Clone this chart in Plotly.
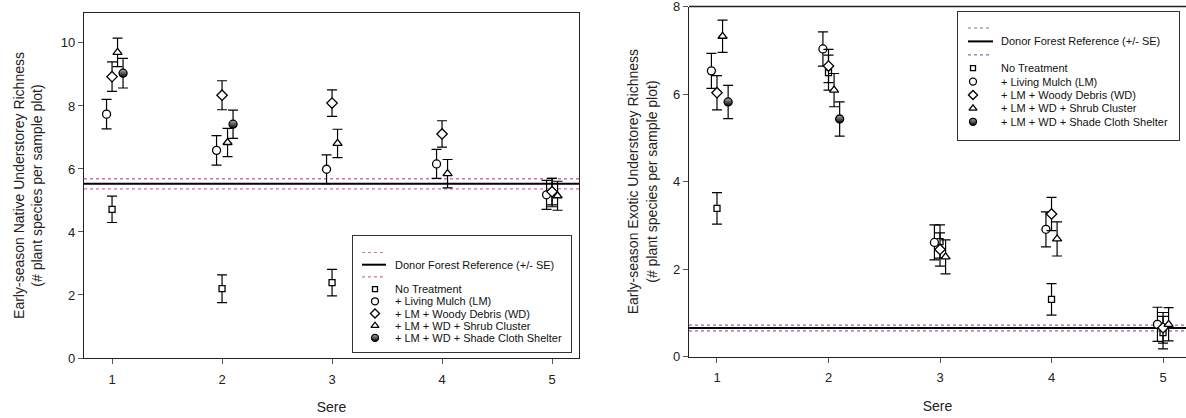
import plotly.graph_objects as go

W, H = 1186, 418
FONT = "Liberation Sans, Arial, sans-serif"

# ---------------- data ----------------
seres = [1, 2, 3, 4, 5]
sere_labels = ["1", "2", "3", "4", "5"]
treatments = [
    "No Treatment",
    "+ Living Mulch (LM)",
    "+ LM + Woody Debris (WD)",
    "+ LM + WD + Shrub Cluster",
    "+ LM + WD + Shade Cloth Shelter",
]
ref_label = "Donor Forest Reference (+/- SE)"

native_no_treatment = [4.72, 2.20, 2.39, None, 5.25]
native_no_treatment_se = [0.42, 0.44, 0.42, None, 0.45]
native_living_mulch = [7.74, 6.59, 5.99, 6.16, 5.18]
native_living_mulch_se = [0.47, 0.47, 0.46, 0.46, 0.46]
native_woody_debris = [8.93, 8.34, 8.09, 7.11, 5.28]
native_woody_debris_se = [0.47, 0.46, 0.42, 0.42, 0.42]
native_shrub_cluster = [9.70, 6.84, 6.81, 5.85, 5.15]
native_shrub_cluster_se = [0.45, 0.45, 0.45, 0.45, 0.46]
native_shade_cloth = [9.04, 7.42, None, None, None]
native_shade_cloth_se = [0.47, 0.45, None, None, None]

exotic_no_treatment = [3.39, 6.49, 2.63, 1.31, 0.55]
exotic_no_treatment_se = [0.36, 0.40, 0.38, 0.36, 0.37]
exotic_living_mulch = [6.53, 7.03, 2.61, 2.91, 0.74]
exotic_living_mulch_se = [0.40, 0.39, 0.40, 0.40, 0.39]
exotic_woody_debris = [6.03, 6.64, 2.45, 3.26, 0.66]
exotic_woody_debris_se = [0.39, 0.38, 0.38, 0.38, 0.35]
exotic_shrub_cluster = [7.32, 6.09, 2.28, 2.69, 0.74]
exotic_shrub_cluster_se = [0.37, 0.38, 0.39, 0.39, 0.38]
exotic_shade_cloth = [5.82, 5.43, None, None, None]
exotic_shade_cloth_se = [0.38, 0.39, None, None, None]

native_ref_mean = 5.53
native_ref_se = 0.16
exotic_ref_mean = 0.655
exotic_ref_se = 0.065

native_y_ticks = [0, 2, 4, 6, 8, 10]
exotic_y_ticks = [0, 2, 4, 6, 8]

native_series = [
    (native_no_treatment, native_no_treatment_se),
    (native_living_mulch, native_living_mulch_se),
    (native_woody_debris, native_woody_debris_se),
    (native_shrub_cluster, native_shrub_cluster_se),
    (native_shade_cloth, native_shade_cloth_se),
]
exotic_series = [
    (exotic_no_treatment, exotic_no_treatment_se),
    (exotic_living_mulch, exotic_living_mulch_se),
    (exotic_woody_debris, exotic_woody_debris_se),
    (exotic_shrub_cluster, exotic_shrub_cluster_se),
    (exotic_shade_cloth, exotic_shade_cloth_se),
]

# ---------------- styles ----------------
dodge = [0.0, -0.05, 0.0, 0.05, 0.10]
marker_styles = [
    dict(symbol="square", size=6, color="white", line=dict(color="black", width=1.3)),
    dict(symbol="circle", size=8, color="white", line=dict(color="black", width=1.3)),
    dict(symbol="diamond", size=8, color="white", line=dict(color="black", width=1.3)),
    dict(symbol="triangle-up", size=8, color="white", line=dict(color="black", width=1.3)),
    dict(symbol="circle", size=8, color="#b0b0b0", line=dict(color="black", width=1.3),
         gradient=dict(type="vertical", color="black")),
]

fig = go.Figure()


def add_panel(series, xa, ya):
    for i, (vals, ses) in enumerate(series):
        xs, ys, es = [], [], []
        for s, v, e in zip(seres, vals, ses):
            if v is None:
                continue
            xs.append(s + dodge[i])
            ys.append(v)
            es.append(e)
        fig.add_trace(go.Scatter(
            x=xs, y=ys, mode="markers", xaxis=xa, yaxis=ya,
            name=treatments[i], showlegend=False,
            marker=marker_styles[i],
            error_y=dict(type="data", array=es, visible=True,
                         color="black", thickness=1.2, width=5),
        ))


add_panel(native_series, "x", "y")
add_panel(exotic_series, "x2", "y2")

# reference lines
for xd, yr, m, se, dcol in [("x domain", "y", native_ref_mean, native_ref_se, "#d070b0"),
                            ("x2 domain", "y2", exotic_ref_mean, exotic_ref_se, "#8a6aaa")]:
    fig.add_shape(type="line", xref=xd, yref=yr, x0=0, x1=1, y0=m, y1=m,
                  line=dict(color="black", width=2), layer="below")
    for yy in (m - se, m + se):
        fig.add_shape(type="line", xref=xd, yref=yr, x0=0, x1=1, y0=yy, y1=yy,
                      line=dict(color=dcol, width=1.3, dash="dot"), layer="below")

# ---------------- geometry ----------------
def px_x(p):
    return p / W


def px_y(p):
    return 1 - p / H


axis_common = dict(showgrid=False, zeroline=False, showline=True, linecolor="#222",
                   linewidth=1.3, ticks="outside", ticklen=5, tickwidth=1,
                   tickcolor="#555", ticklabeloverflow="allow",
                   tickfont=dict(family=FONT, size=13, color="#222"))

layout = dict(
    width=W, height=H, autosize=False,
    margin=dict(l=0, r=0, t=0, b=0),
    paper_bgcolor="white", plot_bgcolor="white",
    template="none", showlegend=False,
    font=dict(family=FONT, size=13, color="#222"),
    xaxis=dict(domain=[px_x(84), px_x(579)], range=[0.745, 5.245], anchor="y",
               tickvals=seres, ticktext=sere_labels, mirror=True, ticklabelstandoff=4,
               title=dict(text="Sere", font=dict(family=FONT, size=14), standoff=16),
               **axis_common),
    yaxis=dict(domain=[px_y(358), px_y(13)], range=[0, 10.95], anchor="x",
               tickvals=native_y_ticks, mirror=True,
               title=dict(text="Early-season Native Understorey Richness<br>(# plant species per sample plot)",
                          font=dict(family=FONT, size=14), standoff=14),
               **axis_common),
    xaxis2=dict(domain=[px_x(689), 1.0], range=[0.749, 5.206], anchor="y2",
                tickvals=seres, ticktext=sere_labels, ticklabelstandoff=4,
                title=dict(text="Sere", font=dict(family=FONT, size=14), standoff=16),
                **axis_common),
    yaxis2=dict(domain=[px_y(356.7), px_y(6.5)], range=[0, 8], anchor="x2",
                tickvals=exotic_y_ticks,
                title=dict(text="Early-season Exotic Understorey Richness<br>(# plant species per sample plot)",
                           font=dict(family=FONT, size=14), standoff=12),
                **axis_common),
)
fig.update_layout(**layout)
# top border of right panel
fig.add_shape(type="line", xref="x2 domain", yref="y2 domain", x0=0, x1=1, y0=1, y1=1,
              line=dict(color="#222", width=1.3))

# ---------------- inset legends ----------------
legend_specs = [
    # axis suffix, box (left, top, right, bottom) px, row0, row_h, line x0, x1, marker x, text x, dot colour
    ("3", (353, 236, 571, 352), 16.5, 12.2, 9, 33, 22, 40, "#d070b0"),
    ("4", (958, 12, 1179, 140), 16.0, 13.4, 10, 35, 15, 41, "#8a6aaa"),
]
for suf, (bl, bt, br, bb), r0, rh, lx0, lx1, mx, tx, dcol in legend_specs:
    bw, bh = br - bl, bb - bt
    fig.update_layout(**{
        "xaxis" + suf: dict(domain=[px_x(bl), px_x(br)], range=[0, bw], anchor="y" + suf,
                            showgrid=False, zeroline=False, showticklabels=False, ticks="",
                            showline=True, mirror=True, linecolor="#333", linewidth=1),
        "yaxis" + suf: dict(domain=[px_y(bb), px_y(bt)], range=[bh, 0], anchor="x" + suf,
                            showgrid=False, zeroline=False, showticklabels=False, ticks="",
                            showline=True, mirror=True, linecolor="#333", linewidth=1),
    })
    rows = ["lo", "ref", "hi"] + treatments
    for k, row in enumerate(rows):
        yy = r0 + k * rh
        if row in ("lo", "hi"):
            fig.add_shape(type="line", xref="x" + suf, yref="y" + suf, x0=lx0, x1=lx1 - 2,
                          y0=yy, y1=yy, line=dict(color=dcol, width=1.2, dash="dot"))
        elif row == "ref":
            fig.add_shape(type="line", xref="x" + suf, yref="y" + suf, x0=lx0, x1=lx1,
                          y0=yy, y1=yy, line=dict(color="black", width=2))
            fig.add_annotation(x=tx, y=yy, xref="x" + suf, yref="y" + suf, text=ref_label,
                               showarrow=False, xanchor="left", yanchor="middle",
                               font=dict(family=FONT, size=11, color="#111"))
        else:
            i = treatments.index(row)
            st = dict(marker_styles[i])
            st["size"] = st["size"] - 1
            fig.add_trace(go.Scatter(x=[mx], y=[yy], mode="markers", xaxis="x" + suf,
                                     yaxis="y" + suf, marker=st, showlegend=False,
                                     hoverinfo="skip"))
            fig.add_annotation(x=tx, y=yy, xref="x" + suf, yref="y" + suf, text=row,
                               showarrow=False, xanchor="left", yanchor="middle",
                               font=dict(family=FONT, size=11, color="#111"))

fig.write_html("out.html")
